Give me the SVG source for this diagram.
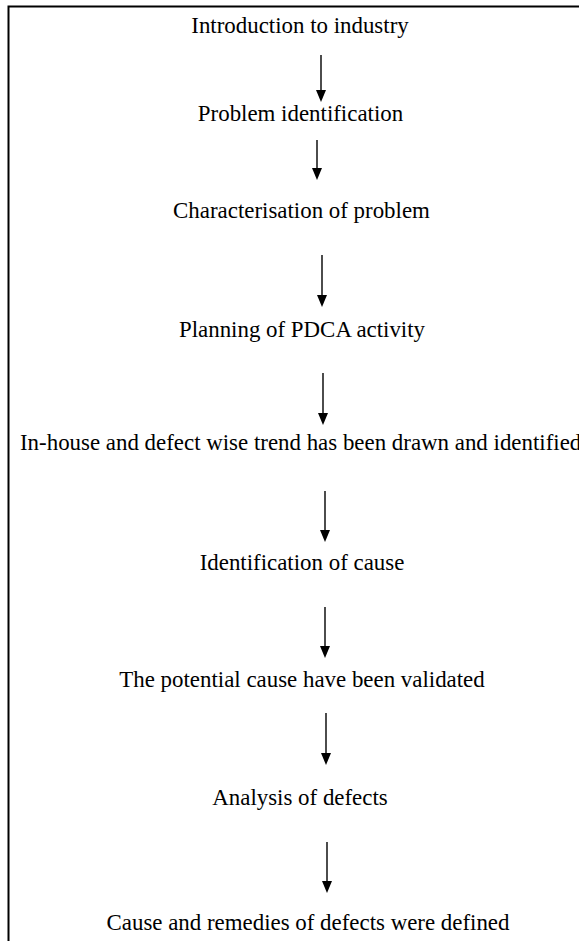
<svg xmlns="http://www.w3.org/2000/svg" width="579" height="941" viewBox="0 0 579 941">
<style>
.t{font-family:"Liberation Serif","Times New Roman",serif;font-size:22.9px;fill:#000;text-anchor:middle}
.c{stroke:#000;stroke-width:1.4;fill:none}
.h{fill:#000}
</style>
<rect x="0" y="0" width="579" height="941" fill="#fff"/>
<path d="M8.5,941 V6.5 H579" stroke="#000" stroke-width="2" fill="none"/>
<g id="n1"><text class="t" x="300" y="33">Introduction to industry</text></g>
<g id="n2"><text class="t" x="300.5" y="121">Problem identification</text></g>
<g id="n3"><text class="t" x="301.5" y="218">Characterisation of problem</text></g>
<g id="n4"><text class="t" x="302" y="337">Planning of PDCA activity</text></g>
<g id="n5"><text class="t" x="20" y="450" style="text-anchor:start">In-house and defect wise trend has been drawn and identified</text></g>
<g id="n6"><text class="t" x="302" y="570">Identification of cause</text></g>
<g id="n7"><text class="t" x="302" y="687">The potential cause have been validated</text></g>
<g id="n8"><text class="t" x="300" y="805">Analysis of defects</text></g>
<g id="n9"><text class="t" x="308" y="930">Cause and remedies of defects were defined</text></g>
<g id="connectors">
<path class="c" d="M321,55 V92"/>
<polygon class="h" points="316,90 326,90 321,102"/>
<path class="c" d="M317,140 V170"/>
<polygon class="h" points="312,168 322,168 317,180"/>
<path class="c" d="M322,255 V297"/>
<polygon class="h" points="317,295 327,295 322,307"/>
<path class="c" d="M323,373 V415"/>
<polygon class="h" points="318,413 328,413 323,425"/>
<path class="c" d="M325,491 V532"/>
<polygon class="h" points="320,530 330,530 325,542"/>
<path class="c" d="M325,607 V648"/>
<polygon class="h" points="320,646 330,646 325,658"/>
<path class="c" d="M326,713 V755"/>
<polygon class="h" points="321,753 331,753 326,765"/>
<path class="c" d="M327,842 V883"/>
<polygon class="h" points="322,881 332,881 327,893"/>
</g>
</svg>
